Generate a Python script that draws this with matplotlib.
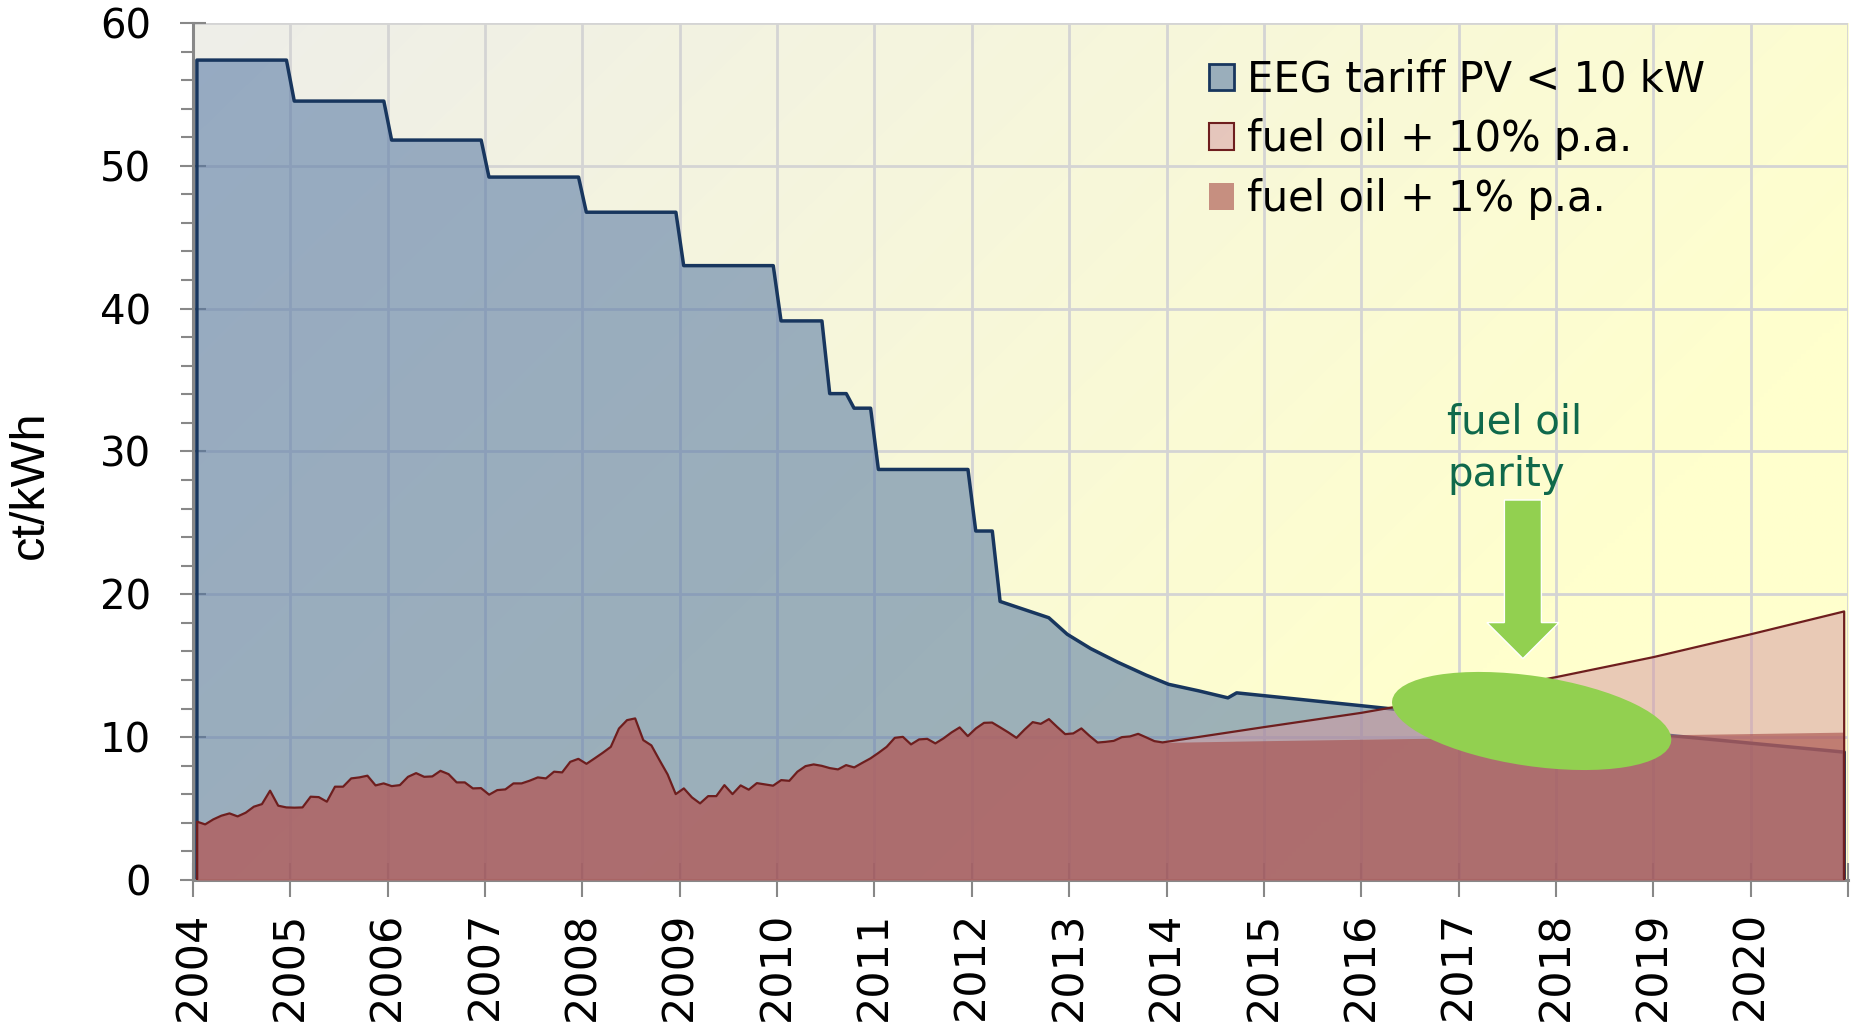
"""EEG feed-in tariff for small PV systems compared with fuel oil prices"""

import matplotlib
matplotlib.use("Agg")
import matplotlib.pyplot as plt
import numpy as np
from matplotlib.patches import Patch, Ellipse, FancyArrow
from matplotlib.ticker import MultipleLocator
from matplotlib.colors import to_rgba
from matplotlib.transforms import ScaledTranslation

# EEG tariff PV < 10 kW (ct/kWh), break points of the monthly curve
tariff_years = [2004.04, 2004.96, 2005.04, 2005.96, 2006.04, 2006.96, 2007.04, 2007.96,
                2008.04, 2008.96, 2009.04, 2009.96, 2010.04, 2010.46, 2010.54, 2010.71,
                2010.79, 2010.96, 2011.04, 2011.96, 2012.04, 2012.21, 2012.29, 2012.79,
                2012.98, 2013.22, 2013.5, 2013.79, 2014.02, 2014.33, 2014.63, 2014.72,
                2016.0, 2016.28, 2020.96]
tariff_ct = [57.4, 57.4, 54.53, 54.53, 51.8, 51.8, 49.21, 49.21,
             46.75, 46.75, 43.01, 43.01, 39.14, 39.14, 34.05, 34.05,
             33.03, 33.03, 28.74, 28.74, 24.43, 24.43, 19.5, 18.36,
             17.2, 16.2, 15.24, 14.34, 13.7, 13.24, 12.75, 13.1,
             12.2, 12.0, 8.95]

# fuel oil price (ct/kWh), monthly Jan..Dec
oil_2004 = [4.08, 3.89, 4.24, 4.5, 4.66, 4.45, 4.71, 5.13, 5.31, 6.25, 5.2, 5.08]
oil_2005 = [5.06, 5.08, 5.83, 5.8, 5.48, 6.53, 6.53, 7.11, 7.18, 7.3, 6.62, 6.76]
oil_2006 = [6.57, 6.64, 7.22, 7.48, 7.22, 7.25, 7.64, 7.41, 6.83, 6.83, 6.41, 6.43]
oil_2007 = [5.97, 6.29, 6.34, 6.76, 6.76, 6.95, 7.18, 7.11, 7.58, 7.53, 8.27, 8.48]
oil_2008 = [8.13, 8.51, 8.9, 9.32, 10.6, 11.19, 11.31, 9.79, 9.42, 8.39, 7.39, 6.01]
oil_2009 = [6.41, 5.78, 5.36, 5.87, 5.87, 6.64, 6.01, 6.62, 6.32, 6.78, 6.69, 6.6]
oil_2010 = [6.99, 6.94, 7.58, 7.97, 8.09, 7.99, 7.83, 7.74, 8.04, 7.88, 8.2, 8.51]
oil_2011 = [8.9, 9.32, 9.95, 10.02, 9.49, 9.84, 9.88, 9.56, 9.91, 10.33, 10.68, 10.07]
oil_2012 = [10.61, 11.0, 11.02, 10.68, 10.33, 9.95, 10.53, 11.05, 10.93, 11.26, 10.72, 10.21]
oil_2013 = [10.26, 10.61, 10.09, 9.62, 9.67, 9.74, 10.0, 10.05, 10.23, 9.98, 9.72, 9.63]

# projections from end of 2013
proj_years = [2015, 2016, 2017, 2018, 2019, 2020, 2020.96]
oil_10pct = [10.7, 11.7, 12.9, 14.2, 15.6, 17.2, 18.8]
oil_1pct = [9.75, 9.85, 9.95, 10.05, 10.15, 10.25, 10.35]

labels = ["EEG tariff PV < 10 kW", "fuel oil + 10% p.a.", "fuel oil + 1% p.a."]

BLUE = "#4f73a3"
NAVY = "#18365e"
PINK = "#d597a1"
BROWN = "#a54a46"
DARKRED = "#6e1e1e"
GREEN = "#92d050"
GRAY = "#888888"


def main():
    plt.rcParams["font.family"] = "DejaVu Sans"

    fig = plt.figure(figsize=(18.54, 10.25), dpi=100)
    ax = fig.add_axes([0.1041, 0.1415, 0.8927, 0.8361])

    # background gradient (grey top left -> yellow right)
    xx, yy = np.meshgrid(np.linspace(0, 1, 400), np.linspace(1, 0, 200))
    t = np.clip(0.85 * xx + 0.45 * (1 - yy), 0, 1)
    c0 = np.array([238, 238, 233]) / 255
    c1 = np.array([255, 255, 205]) / 255
    img = c0 + (c1 - c0) * t[..., None]
    ax.imshow(img, extent=[0, 1, 0, 1], transform=ax.transAxes, aspect="auto",
              zorder=0, interpolation="bilinear")

    # monthly positions for the fuel oil history
    hist = [oil_2004, oil_2005, oil_2006, oil_2007, oil_2008,
            oil_2009, oil_2010, oil_2011, oil_2012, oil_2013]
    hist_x, hist_y = [], []
    for i, vals in enumerate(hist):
        for m, v in enumerate(vals):
            hist_x.append(2004 + i + (m + 0.5) / 12)
            hist_y.append(v)

    x10 = hist_x + proj_years
    y10 = hist_y + oil_10pct
    x1 = hist_x + proj_years
    y1 = hist_y + oil_1pct

    # EEG tariff area
    ax.fill_between(tariff_years, 0, tariff_ct, color=BLUE, alpha=0.55, lw=0, zorder=2)
    ax.plot([tariff_years[0]] + tariff_years + [tariff_years[-1]],
            [0] + tariff_ct + [0], color=NAVY, lw=2.5, zorder=2.5)

    # fuel oil areas
    ax.fill_between(x10, 0, y10, color=PINK, alpha=0.5, lw=0, zorder=3)
    ax.fill_between(x1, 0, y1, color=BROWN, alpha=0.6, lw=0, zorder=4)
    ax.plot([x10[0]] + x10 + [x10[-1]], [0] + y10 + [0],
            color=DARKRED, lw=1.6, zorder=5)

    # parity marker
    trans = fig.dpi_scale_trans + ScaledTranslation(2017.75, 11.13, ax.transData)
    ax.add_patch(Ellipse((0, 0), 2.82, 0.90, angle=-8.4, transform=trans,
                         facecolor=GREEN, edgecolor="none", zorder=6))
    ax.add_patch(FancyArrow(2017.66, 26.6, 0, -11.1, width=0.38, head_width=0.74,
                            head_length=2.52, length_includes_head=True,
                            facecolor=GREEN, edgecolor="white", lw=1, zorder=7))
    ax.text(2016.88, 33.4, "fuel oil\nparity", color="#0f694b", fontsize=29,
            ha="left", va="top", linespacing=1.4, zorder=7)

    # axes
    ax.set_xlim(2004, 2021)
    ax.set_ylim(0, 60)
    ax.set_xticks(range(2004, 2022))
    ax.set_xticklabels([str(y) for y in range(2004, 2021)] + [""])
    ax.set_yticks(range(0, 61, 10))
    ax.yaxis.set_minor_locator(MultipleLocator(2))
    ax.grid(True, which="major", color="#d4d4d4", lw=2)
    ax.set_axisbelow(True)

    ax.tick_params(axis="x", which="major", direction="inout", length=25, width=1.5,
                   color=GRAY, pad=10, labelsize=31, labelrotation=90)
    ax.tick_params(axis="y", which="major", direction="inout", length=18.7, width=1.5,
                   color=GRAY, pad=21, labelsize=29)
    ax.tick_params(axis="y", which="minor", direction="out", length=8.6, width=1.5,
                   color=GRAY)
    for side in ["top", "right"]:
        ax.spines[side].set_visible(False)
    for side in ["left", "bottom"]:
        ax.spines[side].set_color(GRAY)
        ax.spines[side].set_linewidth(2.2)

    ax.set_ylabel("ct/kWh", fontsize=35, family="Liberation Sans")
    ax.yaxis.set_label_coords(-0.0985, 0.461)
    ax.yaxis.label.set_verticalalignment("center")

    handles = [Patch(facecolor=to_rgba(BLUE, 0.55), edgecolor=NAVY, lw=2),
               Patch(facecolor=to_rgba(PINK, 0.5), edgecolor=DARKRED, lw=1.5),
               Patch(facecolor=to_rgba(BROWN, 0.6), edgecolor="none")]
    ax.legend(handles, labels, loc="upper left", bbox_to_anchor=(0.604, 0.978),
              frameon=False, fontsize=30, handlelength=0.6, handleheight=0.6,
              handletextpad=0.3, labelspacing=0.43, borderaxespad=0)

    fig.savefig("out.png", dpi=100)
    plt.close(fig)


if __name__ == "__main__":
    main()
